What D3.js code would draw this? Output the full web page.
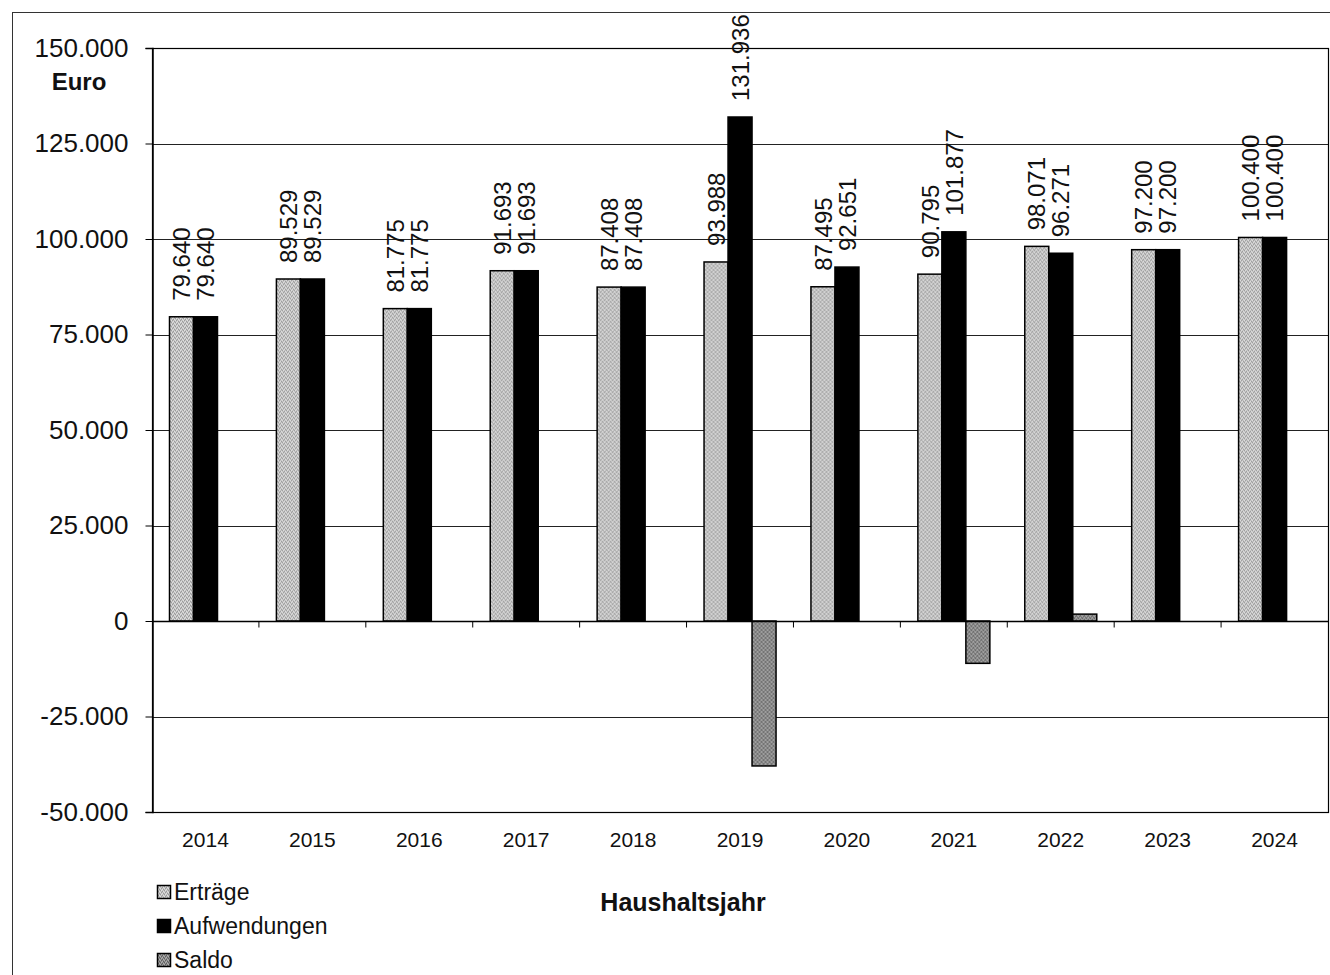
<!DOCTYPE html>
<html>
<head>
<meta charset="utf-8">
<script src="https://cdn.jsdelivr.net/npm/d3@7"></script>
<style>
  html, body { margin: 0; padding: 0; background: #fff; }
  svg { display: block; font-family: "Liberation Sans", Arial, sans-serif; }
</style>
</head>
<body>
<svg id="chart" width="1330" height="975"></svg>
<script>
const years = ["2014","2015","2016","2017","2018","2019","2020","2021","2022","2023","2024"];
const ertraege = [79640, 89529, 81775, 91693, 87408, 93988, 87495, 90795, 98071, 97200, 100400];
const aufwendungen = [79640, 89529, 81775, 91693, 87408, 131936, 92651, 101877, 96271, 97200, 100400];
const saldo = [0, 0, 0, 0, 0, -37948, 0, -11082, 1800, 0, 0];
const seriesNames = ["Erträge", "Aufwendungen", "Saldo"];
const yTicks = [-50000, -25000, 0, 25000, 50000, 75000, 100000, 125000, 150000];

(function () {
const seriesValues = [ertraege, aufwendungen, saldo];
const fmt = v => d3.format(",")(v).replace(/,/g, ".").replace("\u2212", "-");

const svg = d3.select("#chart");
const pLeft = 152, pRight = 1328, pTop = 48, pBottom = 812;

// patterns (stipple texture)
const defs = svg.append("defs");
function stipple(id, base, dark, light) {
  const p = defs.append("pattern").attr("id", id).attr("patternUnits", "userSpaceOnUse")
    .attr("width", 4).attr("height", 4);
  p.append("rect").attr("width", 4).attr("height", 4).attr("fill", base);
  [[0,0],[2,1],[1,3],[3,2]].forEach(([a,b]) => p.append("rect").attr("x", a).attr("y", b).attr("width",1).attr("height",1).attr("fill", dark));
  [[1,1],[3,0],[0,2],[2,3]].forEach(([a,b]) => p.append("rect").attr("x", a).attr("y", b).attr("width",1).attr("height",1).attr("fill", light));
}
stipple("pE", "#c2c2c2", "#9a9a9a", "#e0e0e0");
stipple("pS", "#8a8a8a", "#5e5e5e", "#b0b0b0");
const fills = ["url(#pE)", "#000", "url(#pS)"];

// outer frame
svg.append("rect").attr("x", 12.5).attr("y", 12.5).attr("width", 1340).attr("height", 1000)
  .attr("fill", "none").attr("stroke", "#333").attr("stroke-width", 1);

const y = d3.scaleLinear().domain([-50000, 150000]).range([pBottom, pTop]);
const x0 = d3.scaleBand().domain(years).range([pLeft, pRight]).padding(0);
const x1 = d3.scaleBand().domain(seriesNames).range([17.5, 89.5]).padding(0);

// gridlines
svg.append("g").selectAll("line").data(yTicks).join("line")
  .attr("x1", pLeft).attr("x2", pRight)
  .attr("y1", d => Math.round(y(d)) + 0.5).attr("y2", d => Math.round(y(d)) + 0.5)
  .attr("stroke", "#222").attr("stroke-width", 1);

// plot border
svg.append("rect").attr("x", pLeft + 0.5).attr("y", Math.round(y(150000)) + 0.5)
  .attr("width", pRight - pLeft).attr("height", Math.round(y(-50000)) - Math.round(y(150000)))
  .attr("fill", "none").attr("stroke", "#000").attr("stroke-width", 1.2);

// y axis
const yAxis = d3.axisLeft(y).tickValues(yTicks).tickSize(7).tickPadding(17).tickFormat(fmt);
const gy = svg.append("g").attr("transform", `translate(${pLeft + 0.5},0)`).call(yAxis);
gy.select(".domain").attr("stroke", "#000").attr("stroke-width", 1.5);
gy.selectAll(".tick line").attr("stroke", "#000");
gy.selectAll(".tick text").attr("font-size", 26).attr("fill", "#111")
  .attr("font-family", "'Liberation Sans', Arial, sans-serif");

// bars
const groups = svg.append("g").selectAll("g").data(years).join("g")
  .attr("transform", d => `translate(${x0(d)},0)`);
groups.selectAll("rect").data((d, i) => seriesNames.map((s, k) => ({ s, k, v: seriesValues[k][i] })))
  .join("rect")
  .attr("x", d => x1(d.s))
  .attr("y", d => Math.min(y(d.v), y(0)))
  .attr("width", x1.bandwidth())
  .attr("height", d => Math.abs(y(d.v) - y(0)))
  .attr("fill", d => fills[d.k])
  .attr("stroke", "#000").attr("stroke-width", 1.5);

// x axis at zero
const gx = svg.append("g").attr("transform", `translate(0,${Math.round(y(0)) + 0.5})`);
gx.append("line").attr("x1", pLeft).attr("x2", pRight).attr("stroke", "#000").attr("stroke-width", 1.5);
gx.selectAll("line.t").data(years.slice(1)).join("line").attr("class", "t")
  .attr("x1", d => x0(d)).attr("x2", d => x0(d)).attr("y1", 0).attr("y2", 6)
  .attr("stroke", "#000");

// year labels
svg.append("g").selectAll("text").data(years).join("text")
  .attr("x", d => x0(d) + x0.bandwidth() / 2)
  .attr("y", 847)
  .attr("text-anchor", "middle").attr("font-size", 21).attr("fill", "#111")
  .text(d => d);

// data labels (Erträge and Aufwendungen)
groups.selectAll("text").data((d, i) => [0, 1].map(k => ({ s: seriesNames[k], v: seriesValues[k][i] })))
  .join("text")
  .attr("transform", d => `translate(${x1(d.s) + x1.bandwidth() / 2},${y(d.v) - 16}) rotate(-90)`)
  .attr("dy", "0.36em")
  .attr("text-anchor", "start")
  .attr("font-size", 24).attr("fill", "#111")
  .text(d => fmt(d.v));

// axis titles
svg.append("text").attr("x", 79).attr("y", 90).attr("text-anchor", "middle")
  .attr("font-size", 24).attr("font-weight", "bold").attr("fill", "#111").text("Euro");
svg.append("text").attr("x", 683).attr("y", 911).attr("text-anchor", "middle")
  .attr("font-size", 25).attr("font-weight", "bold").attr("fill", "#111").text("Haushaltsjahr");

// legend
const lg = svg.append("g").selectAll("g").data(seriesNames).join("g")
  .attr("transform", (d, i) => `translate(157,${892 + i * 34})`);
lg.append("rect").attr("x", 0.5).attr("y", -6.5).attr("width", 13).attr("height", 13)
  .attr("fill", (d, i) => fills[i]).attr("stroke", "#000").attr("stroke-width", 1.5);
lg.append("text").attr("x", 17).attr("y", 0).attr("dy", "0.36em")
  .attr("font-size", 23).attr("fill", "#111").text(d => d);
})();
</script>
</body>
</html>
